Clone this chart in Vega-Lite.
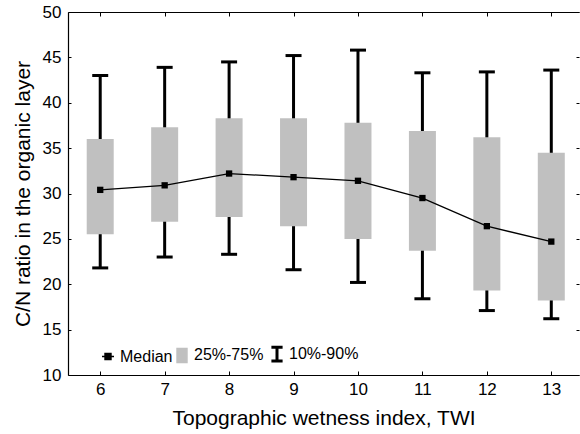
{
  "$schema": "https://vega.github.io/schema/vega-lite/v6.json",
  "width": 511,
  "height": 363,
  "autosize": "none",
  "padding": {"left": 68, "top": 12, "right": 1, "bottom": 59},
  "background": "white",
  "config": {
    "view": {"stroke": null},
    "font": "Liberation Sans",
    "axis": {
      "labelFont": "Liberation Sans",
      "labelFontSize": 17,
      "labelColor": "black",
      "titleFont": "Liberation Sans",
      "titleFontSize": 21,
      "titleFontWeight": "normal",
      "titleColor": "black",
      "domain": true,
      "domainColor": "black",
      "domainWidth": 1.2,
      "domainOpacity": 1,
      "ticks": true,
      "tickColor": "black",
      "tickWidth": 1,
      "tickOpacity": 1,
      "grid": false
    }
  },
  "data": {
    "values": [
      {"twi": 6, "p10": 21.8, "q25": 25.5, "median": 30.4, "q75": 36.0, "p90": 43.0},
      {"twi": 7, "p10": 23.0, "q25": 26.9, "median": 30.9, "q75": 37.3, "p90": 43.9},
      {"twi": 8, "p10": 23.3, "q25": 27.4, "median": 32.2, "q75": 38.3, "p90": 44.5},
      {"twi": 9, "p10": 21.6, "q25": 26.4, "median": 31.8, "q75": 38.3, "p90": 45.2},
      {"twi": 10, "p10": 20.2, "q25": 25.0, "median": 31.4, "q75": 37.8, "p90": 45.8},
      {"twi": 11, "p10": 18.4, "q25": 23.7, "median": 29.5, "q75": 36.9, "p90": 43.3},
      {"twi": 12, "p10": 17.1, "q25": 19.3, "median": 26.4, "q75": 36.2, "p90": 43.4},
      {"twi": 13, "p10": 16.2, "q25": 18.2, "median": 24.7, "q75": 34.5, "p90": 43.6}
    ]
  },
  "resolve": {"axis": {"x": "independent", "y": "independent"}},
  "layer": [
    {
      "mark": {"type": "rule", "strokeWidth": 3},
      "encoding": {
        "x": {
          "field": "twi", "type": "quantitative",
          "scale": {"domain": [5.5, 13.43], "nice": false, "zero": false, "padding": 0},
          "axis": {"orient": "bottom", "domain": true, "values": [6,7,8,9,10,11,12,13], "format": "d", "tickSize": -4, "labelPadding": 10, "title": "Topographic wetness index, TWI", "titlePadding": 10}
        },
        "y": {
          "field": "p10", "type": "quantitative",
          "scale": {"domain": [10, 50], "nice": false, "zero": false, "padding": 0},
          "axis": {"orient": "left", "domain": true, "values": [10,15,20,25,30,35,40,45,50], "tickSize": -3, "labelPadding": 10, "title": "C/N ratio in the organic layer", "titlePadding": 9}
        },
        "y2": {"field": "p90"},
        "color": {
          "datum": "10%-90%",
          "type": "nominal",
          "scale": {"domain": ["Median", "25%-75%", "10%-90%"], "range": ["black", "#c0c0c0", "black"]},
          "legend": {
            "orient": "none",
            "legendX": 32,
            "legendY": 334,
            "direction": "horizontal",
            "title": null,
            "padding": 0,
            "labelFont": "Liberation Sans",
            "labelFontSize": 16,
            "labelColor": "black",
            "symbolSize": 256,
            "labelOffset": 4,
            "columnPadding": 1,
            "encode": {
              "symbols": {
                "update": {
                  "shape": {"signal": "datum.value === 'Median' ? 'M-0.75,0H0.75M-0.37,-0.37H0.37V0.37H-0.37Z' : datum.value === '25%-75%' ? 'M-0.62,-0.88H0.62V0.88H-0.62Z' : 'M-0.7,-0.85H0.7M0,-0.85V0.85M-0.7,0.85H0.7'"},
                  "fill": {"signal": "datum.value === 'Median' ? 'black' : datum.value === '25%-75%' ? '#c0c0c0' : 'transparent'"},
                  "stroke": {"signal": "datum.value === '25%-75%' ? 'transparent' : 'black'"},
                  "strokeWidth": {"signal": "datum.value === '10%-90%' ? 3 : 1.5"},
                  "opacity": {"value": 1},
                  "fillOpacity": {"value": 1},
                  "strokeOpacity": {"value": 1}
                }
              }
            }
          }
        }
      }
    },
    {
      "mark": {"type": "tick", "orient": "horizontal", "size": 16, "thickness": 3, "color": "black", "opacity": 1},
      "encoding": {
        "x": {"field": "twi", "type": "quantitative", "axis": {"orient": "top", "domain": true, "values": [6,7,8,9,10,11,12,13], "labels": false, "tickSize": -4, "title": null}},
        "y": {"field": "p90", "type": "quantitative", "axis": {"orient": "right", "values": [10,15,20,25,30,35,40,45,50], "labels": false, "domain": false, "tickSize": -3, "title": null}}
      }
    },
    {
      "mark": {"type": "tick", "orient": "horizontal", "size": 16, "thickness": 3, "color": "black", "opacity": 1},
      "encoding": {
        "x": {"field": "twi", "type": "quantitative", "axis": null},
        "y": {"field": "p10", "type": "quantitative", "axis": null}
      }
    },
    {
      "mark": {"type": "bar", "size": 27, "opacity": 1},
      "encoding": {
        "x": {"field": "twi", "type": "quantitative", "axis": null},
        "y": {"field": "q25", "type": "quantitative", "axis": null},
        "y2": {"field": "q75"},
        "color": {"datum": "25%-75%", "type": "nominal"}
      }
    },
    {
      "mark": {"type": "line", "strokeWidth": 1.3},
      "encoding": {
        "x": {"field": "twi", "type": "quantitative", "axis": null},
        "y": {"field": "median", "type": "quantitative", "axis": null},
        "color": {"datum": "Median", "type": "nominal"}
      }
    },
    {
      "mark": {"type": "square", "size": 40, "color": "black", "opacity": 1, "filled": true},
      "encoding": {
        "x": {"field": "twi", "type": "quantitative", "axis": null},
        "y": {"field": "median", "type": "quantitative", "axis": null}
      }
    }
  ]
}
